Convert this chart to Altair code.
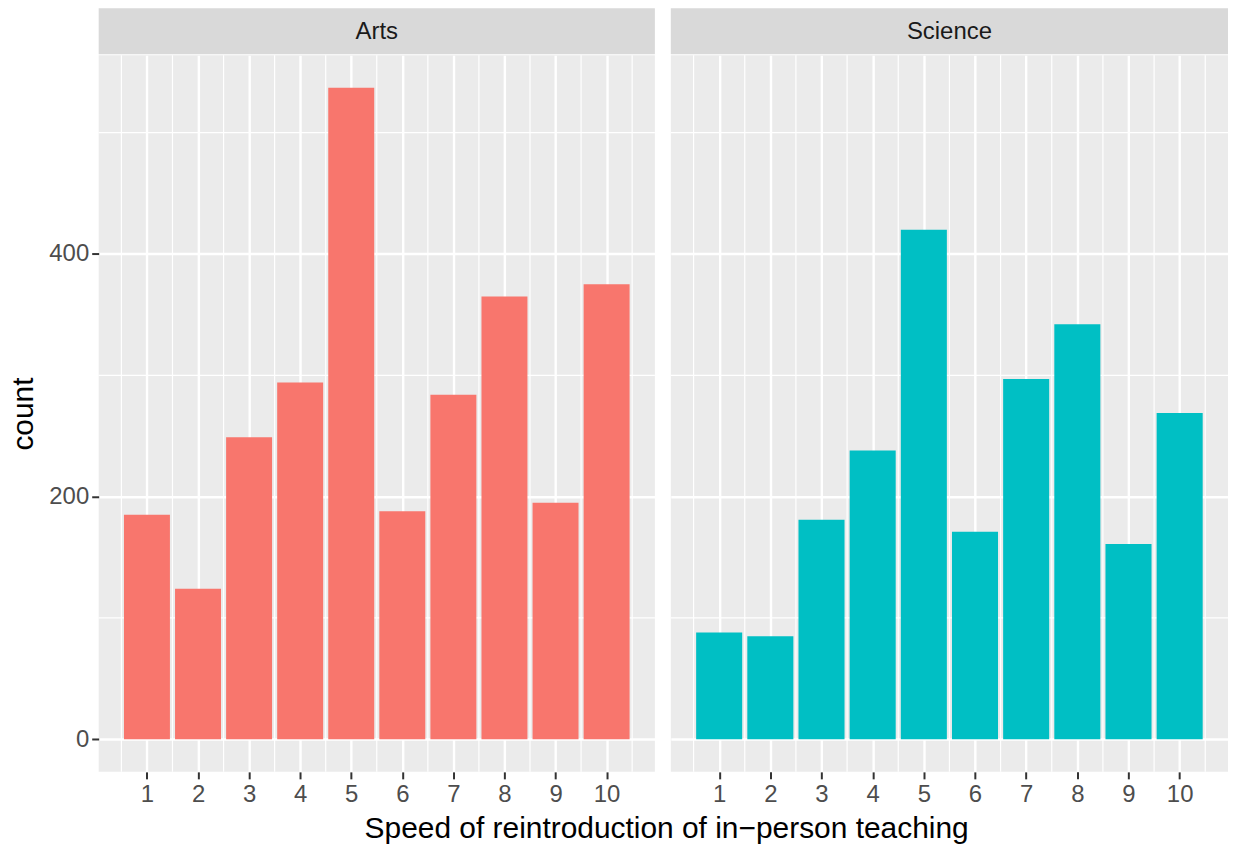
import altair as alt
import pandas as pd

# Counts of responses per speed rating, split by faculty
speeds = list(range(1, 11))
arts_counts = [185, 124, 249, 294, 537, 188, 284, 365, 195, 375]
science_counts = [88, 85, 181, 238, 420, 171, 297, 342, 161, 269]
subjects = ["Arts", "Science"]
bar_colors = ["#F8766D", "#00BFC4"]
y_breaks = [0, 200, 400]
y_minor = [100, 300, 500]

FONT = "Liberation Sans"
BAR_W = 0.9
PANEL_W = [558, 559]
PANEL_H = 719
STRIP_H = 46

# ggplot-style continuous scale expansion (5% on each side)
ymax = max(arts_counts + science_counts)
y_domain = [-0.05 * ymax, 1.05 * ymax]
x_lo, x_hi = speeds[0] - BAR_W / 2, speeds[-1] + BAR_W / 2
x_pad = 0.05 * (x_hi - x_lo)
x_domain = [x_lo - x_pad, x_hi + x_pad]
x_minor = [s - 0.5 for s in speeds] + [speeds[-1] + 0.5]

x_scale = alt.Scale(domain=x_domain, nice=False, zero=False)
y_scale = alt.Scale(domain=y_domain, nice=False, zero=False)


def x_axis():
    return alt.Axis(
        values=speeds, grid=True, gridColor="white", gridWidth=2.4,
        domain=False, tickColor="#333333", tickWidth=2, tickSize=7,
        labelFont=FONT, labelFontSize=24, labelColor="#4D4D4D",
        labelPadding=4, labelFlush=False, title=None,
    )


def y_axis(first):
    return alt.Axis(
        values=y_breaks, grid=True, gridColor="white", gridWidth=2.4,
        domain=False, ticks=first, labels=first,
        tickColor="#333333", tickWidth=2, tickSize=7,
        labelFont=FONT, labelFontSize=24, labelColor="#4D4D4D",
        labelPadding=3,
        title="count" if first else None,
        titleFont=FONT, titleFontSize=30, titleFontWeight="normal",
        titleColor="black", titlePadding=10,
    )


def strip(label, width):
    return alt.Chart(pd.DataFrame({"label": [label]})).mark_text(
        font=FONT, fontSize=24, color="#1A1A1A", align="center", baseline="middle"
    ).encode(
        text="label:N",
        x=alt.value(width / 2),
        y=alt.value(STRIP_H / 2 + 1),
    ).properties(
        width=width, height=STRIP_H,
        view=alt.ViewBackground(fill="#D9D9D9", stroke=None),
    )


def panel(counts, color, width, first):
    df = pd.DataFrame({"speed": speeds, "count": counts})
    df["left"] = df["speed"] - BAR_W / 2
    df["right"] = df["speed"] + BAR_W / 2
    df["base"] = 0

    minor_v = alt.Chart(pd.DataFrame({"x": x_minor})).mark_rule(
        color="white", strokeWidth=1.2
    ).encode(x=alt.X("x:Q", scale=x_scale, axis=x_axis()))

    minor_h = alt.Chart(pd.DataFrame({"y": y_minor})).mark_rule(
        color="white", strokeWidth=1.2
    ).encode(y=alt.Y("y:Q", scale=y_scale, axis=y_axis(first)))

    bars = alt.Chart(df).mark_rect(color=color).encode(
        x=alt.X("left:Q", scale=x_scale, axis=x_axis()),
        x2="right:Q",
        y=alt.Y("count:Q", scale=y_scale, axis=y_axis(first)),
        y2="base:Q",
    )

    return alt.layer(minor_v, minor_h, bars).properties(
        width=width, height=PANEL_H,
        view=alt.ViewBackground(fill="#EBEBEB", stroke=None),
    )


columns = []
for i, (name, counts) in enumerate(zip(subjects, [arts_counts, science_counts])):
    columns.append(
        alt.vconcat(
            strip(name, PANEL_W[i]),
            panel(counts, bar_colors[i], PANEL_W[i], i == 0),
            spacing=0,
        )
    )

chart = alt.hconcat(*columns, spacing=14).properties(
    title=alt.TitleParams(
        "Speed of reintroduction of in\u2212person teaching",
        orient="bottom", anchor="middle", font=FONT, fontSize=30,
        fontWeight="normal", color="black", offset=7, dx=48,
    ),
    padding={"left": 8, "top": 7, "right": 4, "bottom": 4},
    background="white",
).configure_view(stroke=None)

chart.save("out.html", embed_options={"renderer": "svg", "actions": False})
